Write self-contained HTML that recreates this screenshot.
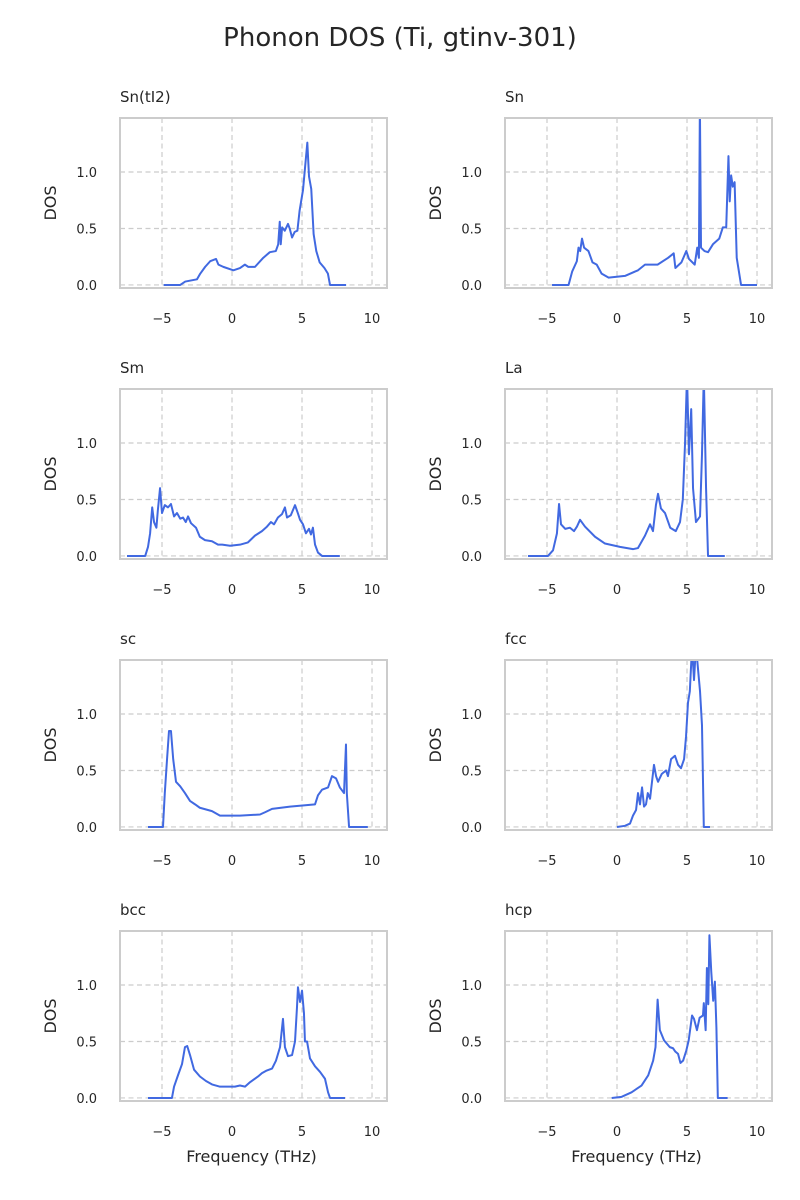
<!DOCTYPE html>
<html><head><meta charset="utf-8"><style>
body{margin:0;background:#fff}
svg{display:block;font-family:"DejaVu Sans","Liberation Sans",sans-serif}
</style></head><body>
<svg id="fig" width="800" height="1200" viewBox="0 0 800 1200">
<text x="400" y="46" text-anchor="middle" font-size="26" fill="#262626">Phonon DOS (Ti, gtinv-301)</text>
</svg>
<script>
const panelNames = ["Sn(tI2)","Sn","Sm","La","sc","fcc","bcc","hcp"];
const xTicks = [-5,0,5,10];
const yTicks = [0.0,0.5,1.0];
const yTickLabels = ["0.0","0.5","1.0"];
const xTickLabels = ["\u22125","0","5","10"];
const dosSnTI2 = [[-4.88,0],[-3.7,0],[-3.34,0.03],[-2.5,0.05],[-2.27,0.1],[-1.92,0.16],[-1.56,0.21],[-1.14,0.23],[-0.97,0.18],[-0.62,0.16],[0.1,0.13],[0.57,0.15],[0.92,0.18],[1.16,0.16],[1.64,0.16],[2.23,0.24],[2.7,0.29],[3.13,0.3],[3.3,0.36],[3.41,0.56],[3.48,0.36],[3.58,0.51],[3.77,0.48],[4.0,0.54],[4.12,0.5],[4.29,0.42],[4.48,0.47],[4.67,0.48],[4.83,0.66],[5.07,0.84],[5.21,1.03],[5.38,1.26],[5.5,0.96],[5.66,0.85],[5.83,0.45],[6.02,0.3],[6.26,0.2],[6.6,0.15],[6.85,0.1],[7.0,0],[8.15,0]];
const dosSn = [[-4.64,0],[-3.46,0],[-3.2,0.12],[-2.87,0.21],[-2.75,0.33],[-2.63,0.3],[-2.5,0.41],[-2.35,0.33],[-2.04,0.3],[-1.75,0.2],[-1.45,0.18],[-1.1,0.1],[-0.6,0.065],[0.57,0.08],[1.5,0.13],[2.0,0.18],[2.9,0.18],[3.65,0.24],[4.05,0.28],[4.17,0.15],[4.6,0.2],[4.95,0.3],[5.14,0.23],[5.55,0.18],[5.73,0.33],[5.85,0.24],[5.92,1.6],[6.0,0.33],[6.25,0.3],[6.5,0.29],[6.85,0.36],[7.3,0.41],[7.56,0.51],[7.8,0.51],[7.96,1.14],[8.05,0.74],[8.15,0.97],[8.27,0.87],[8.4,0.91],[8.55,0.24],[8.86,0],[10,0]];
const dosSm = [[-7.5,0],[-6.2,0],[-6.0,0.08],[-5.85,0.2],[-5.7,0.43],[-5.57,0.3],[-5.4,0.25],[-5.3,0.4],[-5.14,0.6],[-5.0,0.38],[-4.8,0.45],[-4.57,0.43],[-4.36,0.46],[-4.14,0.35],[-3.93,0.38],[-3.7,0.33],[-3.5,0.34],[-3.3,0.3],[-3.14,0.35],[-2.93,0.29],[-2.57,0.25],[-2.3,0.17],[-1.93,0.14],[-1.43,0.13],[-1,0.1],[-0.7,0.1],[-0.14,0.09],[0.57,0.1],[1.14,0.12],[1.64,0.18],[2.14,0.22],[2.5,0.26],[2.78,0.3],[3.0,0.28],[3.28,0.34],[3.57,0.37],[3.78,0.43],[3.93,0.34],[4.2,0.36],[4.5,0.45],[4.7,0.38],[4.86,0.32],[5.07,0.28],[5.28,0.2],[5.5,0.24],[5.64,0.19],[5.78,0.25],[5.93,0.1],[6.14,0.03],[6.43,0],[7.7,0]];
const dosLa = [[-6.36,0],[-4.93,0],[-4.57,0.05],[-4.29,0.2],[-4.14,0.46],[-4.0,0.28],[-3.7,0.24],[-3.36,0.25],[-3.07,0.22],[-2.86,0.26],[-2.64,0.32],[-2.29,0.26],[-1.57,0.17],[-0.86,0.11],[0.21,0.08],[1.14,0.06],[1.5,0.07],[2.0,0.18],[2.36,0.28],[2.57,0.22],[2.78,0.45],[2.93,0.55],[3.14,0.42],[3.43,0.38],[3.8,0.25],[4.2,0.22],[4.5,0.3],[4.7,0.5],[4.86,1.0],[5.0,1.6],[5.14,0.9],[5.3,1.3],[5.43,0.6],[5.64,0.3],[5.93,0.35],[6.07,0.9],[6.2,1.6],[6.36,0.6],[6.5,0],[7.7,0]];
const dosSc = [[-6,0],[-4.93,0],[-4.8,0.3],[-4.64,0.6],[-4.5,0.85],[-4.36,0.85],[-4.2,0.6],[-4.0,0.4],[-3.7,0.36],[-3.36,0.3],[-3,0.23],[-2.64,0.2],[-2.3,0.17],[-1.43,0.14],[-0.86,0.1],[-0.7,0.1],[0.57,0.1],[2,0.11],[2.36,0.13],[2.86,0.16],[4.14,0.18],[5.93,0.2],[6.14,0.28],[6.43,0.33],[6.86,0.35],[7.14,0.45],[7.43,0.43],[7.7,0.35],[8.0,0.3],[8.14,0.73],[8.2,0.3],[8.36,0],[9.7,0]];
const dosFcc = [[0,0],[0.57,0.01],[0.93,0.03],[1.14,0.1],[1.36,0.15],[1.5,0.3],[1.64,0.2],[1.79,0.35],[1.93,0.18],[2.07,0.2],[2.2,0.3],[2.36,0.25],[2.5,0.4],[2.64,0.55],[2.79,0.45],[2.93,0.4],[3.2,0.47],[3.5,0.5],[3.64,0.45],[3.86,0.6],[4.14,0.63],[4.36,0.55],[4.57,0.52],[4.79,0.6],[4.93,0.8],[5.07,1.1],[5.2,1.2],[5.36,1.6],[5.5,1.3],[5.64,1.6],[5.93,1.2],[6.07,0.9],[6.2,0],[6.64,0]];
const dosBcc = [[-6,0],[-4.29,0],[-4.14,0.1],[-3.86,0.2],[-3.57,0.3],[-3.36,0.45],[-3.2,0.46],[-3,0.38],[-2.71,0.25],[-2.29,0.19],[-1.86,0.15],[-1.43,0.12],[-0.86,0.1],[0.21,0.1],[0.57,0.11],[0.93,0.1],[1.29,0.14],[1.86,0.19],[2.14,0.22],[2.43,0.24],[2.86,0.26],[3.14,0.33],[3.43,0.45],[3.64,0.7],[3.78,0.45],[4.0,0.37],[4.29,0.38],[4.5,0.5],[4.64,0.8],[4.71,0.98],[4.86,0.85],[5.0,0.95],[5.14,0.75],[5.21,0.5],[5.36,0.5],[5.57,0.35],[5.93,0.28],[6.29,0.23],[6.64,0.17],[6.86,0.05],[7,0],[8.07,0]];
const dosHcp = [[-0.38,0],[0.33,0.01],[1.04,0.05],[1.75,0.11],[2.23,0.2],[2.58,0.33],[2.75,0.45],[2.9,0.87],[3.06,0.6],[3.36,0.51],[3.77,0.45],[4.0,0.44],[4.17,0.41],[4.36,0.39],[4.53,0.31],[4.72,0.33],[4.95,0.42],[5.12,0.51],[5.36,0.73],[5.5,0.7],[5.71,0.6],[5.9,0.71],[6.14,0.73],[6.2,0.84],[6.33,0.6],[6.42,1.15],[6.52,0.83],[6.6,1.44],[6.73,1.12],[6.87,0.86],[6.99,1.03],[7.1,0.62],[7.2,0],[7.9,0]];
const allSeries = [dosSnTI2,dosSn,dosSm,dosLa,dosSc,dosFcc,dosBcc,dosHcp];

const NS="http://www.w3.org/2000/svg";
const svg=document.getElementById('fig');
const colsX=[120,505], rowsY=[118,389,660,931], PW=267, PH=170;
const XMIN=-8, XMAX=11.07, YMIN=-0.027, YMAX=1.478;
function mk(tag,attrs,parent){const e=document.createElementNS(NS,tag);for(const k in attrs)e.setAttribute(k,attrs[k]);parent.appendChild(e);return e;}
allSeries.forEach((data,i)=>{
  const x0=colsX[i%2], y0=rowsY[Math.floor(i/2)];
  const sx=v=>x0+(v-XMIN)/(XMAX-XMIN)*PW;
  const sy=v=>y0+PH-(v-YMIN)/(YMAX-YMIN)*PH;
  const g=mk('g',{},svg);
  
  
  const cp=mk('clipPath',{id:'c'+i},g);
  mk('rect',{x:x0,y:y0,width:PW,height:PH},cp);
  xTicks.forEach((t,k)=>{
    const gl=mk('line',{x1:sx(t),x2:sx(t),y1:y0,y2:y0+PH,stroke:'#cccccc','stroke-width':1.2,'stroke-dasharray':'5,3.5'},g);
    
    
    const tl=mk('text',{x:sx(t),y:y0+PH+35,'text-anchor':'middle','font-size':13,fill:'#262626'},g);
    tl.textContent=xTickLabels[k];
    
    
  });
  yTicks.forEach((t,k)=>{
    const gl=mk('line',{x1:x0,x2:x0+PW,y1:sy(t),y2:sy(t),stroke:'#cccccc','stroke-width':1.2,'stroke-dasharray':'5,3.5'},g);
    
    
    const tl=mk('text',{x:x0-23,y:sy(t)+5,'text-anchor':'end','font-size':13,fill:'#262626'},g);
    tl.textContent=yTickLabels[k];
    
    
  });
  const d=data.map((p,j)=>(j?'L':'M')+sx(p[0]).toFixed(2)+','+sy(p[1]).toFixed(2)).join('');
  const path=mk('path',{d:d,fill:'none',stroke:'#4169e1','stroke-width':2,'stroke-linejoin':'round','clip-path':'url(#c'+i+')'},g);
  
  
  const fr=mk('rect',{x:x0,y:y0,width:PW,height:PH,fill:'none',stroke:'#cccccc','stroke-width':2},g);
  
  
  const tt=mk('text',{x:x0,y:y0-16,'font-size':15,fill:'#262626'},g);
  tt.textContent=panelNames[i];
  
  
  const yl=mk('text',{x:0,y:0,'text-anchor':'middle','font-size':16,fill:'#262626',transform:'translate('+(x0-64)+','+(y0+PH/2)+') rotate(-90)'},g);
  yl.textContent='DOS';
  
  
  if(i>=6){
    const xl=mk('text',{x:x0+PW/2-2,y:y0+PH+61,'text-anchor':'middle','font-size':16,fill:'#262626'},g);
    xl.textContent='Frequency (THz)';
    
    
  }
});
</script>
</body></html>
